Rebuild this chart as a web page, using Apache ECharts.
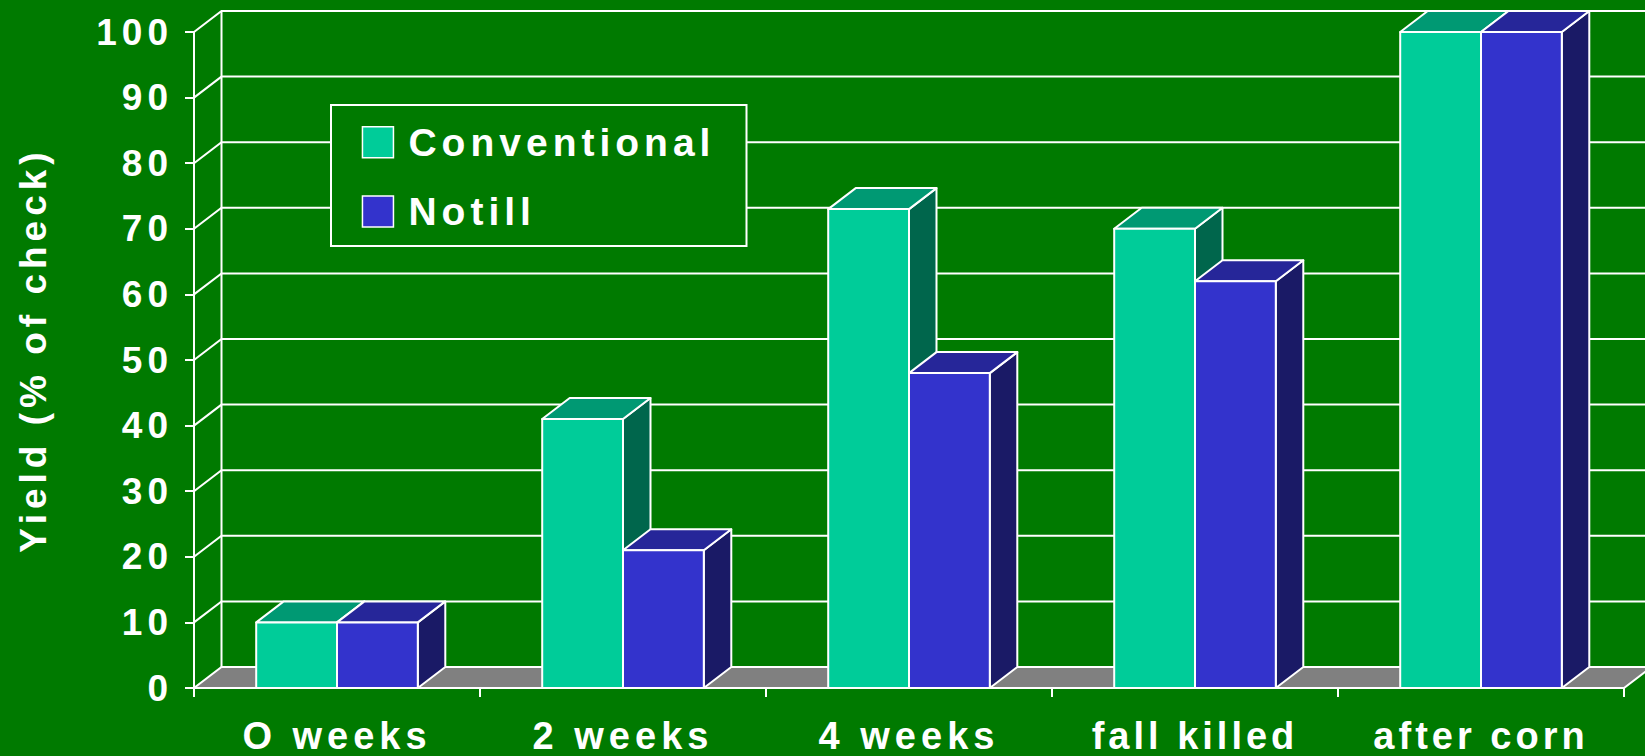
<!DOCTYPE html>
<html>
<head>
<meta charset="utf-8">
<title>Yield (% of check)</title>
<script src="https://cdn.jsdelivr.net/npm/echarts@6/dist/echarts.min.js"></script>
<style>
  html, body { margin: 0; padding: 0; background: #007A00; }
  #main { width: 1645px; height: 756px; }
  /* spaced-out bold lettering used throughout the chart */
  #main text { letter-spacing: 5px; }
</style>
</head>
<body>
<div id="main"></div>
<script>
// ---- data ----
const categories = ['O weeks', '2 weeks', '4 weeks', 'fall killed', 'after corn'];
const seriesNames = ['Conventional', 'Notill'];
const conventional = [10, 41, 73, 70, 100];
const notill = [10, 21, 48, 62, 100];
const yTicks = [0, 10, 20, 30, 40, 50, 60, 70, 80, 90, 100];

// ---- look ----
const BG = '#007A00';
const FONT = '"Liberation Sans", Arial, Helvetica, sans-serif';
const DX = 27.5;          // depth offset of the back wall (px, to the right)
const DY = 21;            // depth offset of the back wall (px, upward)
const BAR_RATIO = 0.2825; // width of one bar as a share of the category band
const EDGE = { stroke: '#ffffff', lineWidth: 2, lineJoin: 'round' };
const palettes = {
  Conventional: { front: '#00CC99', top: '#009973', side: '#00664C' },
  Notill:       { front: '#3333CC', top: '#262699', side: '#1A1A66' }
};
// per-label letter spacing where it differs from the default
const labelSpacing = { 'fall killed': '4px', 'after corn': '4px' };

// floor, back wall edge and gridlines seen in perspective
function renderWall(params, api) {
  const cs = params.coordSys;
  const v = api.value(1);
  const x0 = cs.x, x1 = cs.x + cs.width;
  const y = api.coord([0, v])[1];
  const line = { stroke: '#ffffff', lineWidth: 2 };
  if (v === 0) {
    const yTop = api.coord([0, yTicks[yTicks.length - 1]])[1];
    return {
      type: 'group',
      children: [
        { type: 'polygon',
          shape: { points: [[x0, y], [x1, y], [x1 + DX, y - DY], [x0 + DX, y - DY]] },
          style: Object.assign({ fill: '#808080' }, line) },
        { type: 'line',
          shape: { x1: x0 + DX, y1: y - DY, x2: x0 + DX, y2: yTop - DY },
          style: line }
      ]
    };
  }
  return {
    type: 'group',
    children: [
      { type: 'polyline',
        shape: { points: [[x0, y], [x0 + DX, y - DY], [x1 + DX, y - DY]] },
        style: Object.assign({ fill: null }, line) }
    ]
  };
}

// a box-shaped column: front face, top and right side
function boxRenderer(name, side) {
  const pal = palettes[name];
  return function (params, api) {
    const cat = api.value(0);
    const val = api.value(1);
    const top = api.coord([cat, val]);
    const base = api.coord([cat, 0]);
    const w = api.size([1, 0])[0] * BAR_RATIO;
    const xa = side < 0 ? top[0] - w : top[0];
    const xb = xa + w;
    const yT = top[1], yB = base[1];
    return {
      type: 'group',
      children: [
        { type: 'polygon',
          shape: { points: [[xb, yB], [xb + DX, yB - DY], [xb + DX, yT - DY], [xb, yT]] },
          style: Object.assign({ fill: pal.side }, EDGE) },
        { type: 'polygon',
          shape: { points: [[xa, yT], [xb, yT], [xb + DX, yT - DY], [xa + DX, yT - DY]] },
          style: Object.assign({ fill: pal.top }, EDGE) },
        { type: 'rect',
          shape: { x: xa, y: yT, width: w, height: yB - yT },
          style: Object.assign({ fill: pal.front }, EDGE) }
      ]
    };
  };
}

const chart = echarts.init(document.getElementById('main'), null, { renderer: 'svg' });

const boldWhite = { color: '#ffffff', fontFamily: FONT, fontWeight: 'bold' };

chart.setOption({
  backgroundColor: BG,
  animation: false,
  grid: { left: 194, right: 21, top: 32, bottom: 68, containLabel: false },
  xAxis: {
    type: 'category',
    data: categories,
    boundaryGap: true,
    axisLine: { lineStyle: { color: '#ffffff', width: 2 } },
    axisTick: { show: true, length: 9, lineStyle: { color: '#ffffff', width: 2 } },
    axisLabel: Object.assign({ fontSize: 38, lineHeight: 38, margin: 29, interval: 0 }, boldWhite),
    splitLine: { show: false }
  },
  yAxis: {
    type: 'value',
    min: 0, max: 100, interval: 10,
    name: 'Yield (% of check)',
    nameLocation: 'middle',
    nameRotate: 90,
    nameGap: 142,
    nameTextStyle: Object.assign({ fontSize: 37, padding: [0, 0, 0, 20] }, boldWhite),
    axisLine: { show: true, lineStyle: { color: '#ffffff', width: 2 } },
    axisTick: { show: true, length: 9, lineStyle: { color: '#ffffff', width: 2 } },
    axisLabel: Object.assign({ fontSize: 37, margin: 21, padding: [0, 0, 9, 0] }, boldWhite),
    splitLine: { show: false }
  },
  legend: {
    data: seriesNames.map(n => ({
      name: n,
      icon: 'rect',
      itemStyle: { color: palettes[n].front, borderColor: '#ffffff', borderWidth: 1.5 }
    })),
    orient: 'vertical',
    left: 361.7,
    top: 122.7,
    padding: 0,
    itemWidth: 31,
    itemHeight: 31,
    itemGap: 30.3,
    selectedMode: false,
    textStyle: Object.assign({ fontSize: 39, padding: [0, 0, 0, 10] }, boldWhite)
  },
  graphic: [{
    type: 'rect',
    z: 3,
    shape: { x: 331, y: 105, width: 415.5, height: 141 },
    style: { fill: BG, stroke: '#ffffff', lineWidth: 2 }
  }],
  series: [
    {
      type: 'custom',
      name: 'wall',
      z: 1,
      silent: true,
      renderItem: renderWall,
      data: yTicks.map(v => [0, v]),
      encode: { x: 0, y: 1 }
    },
    {
      type: 'custom',
      name: seriesNames[0],
      z: 2,
      itemStyle: { color: palettes.Conventional.front },
      renderItem: boxRenderer('Conventional', -1),
      data: conventional.map((v, i) => [i, v]),
      encode: { x: 0, y: 1 }
    },
    {
      type: 'custom',
      name: seriesNames[1],
      z: 2.5,
      itemStyle: { color: palettes.Notill.front },
      renderItem: boxRenderer('Notill', 1),
      data: notill.map((v, i) => [i, v]),
      encode: { x: 0, y: 1 }
    }
  ]
});

function applySpacing() {
  document.querySelectorAll('#main text').forEach(t => {
    const s = labelSpacing[t.textContent];
    if (s) t.style.letterSpacing = s;
  });
}
chart.on('finished', applySpacing);
applySpacing();
</script>
</body>
</html>
